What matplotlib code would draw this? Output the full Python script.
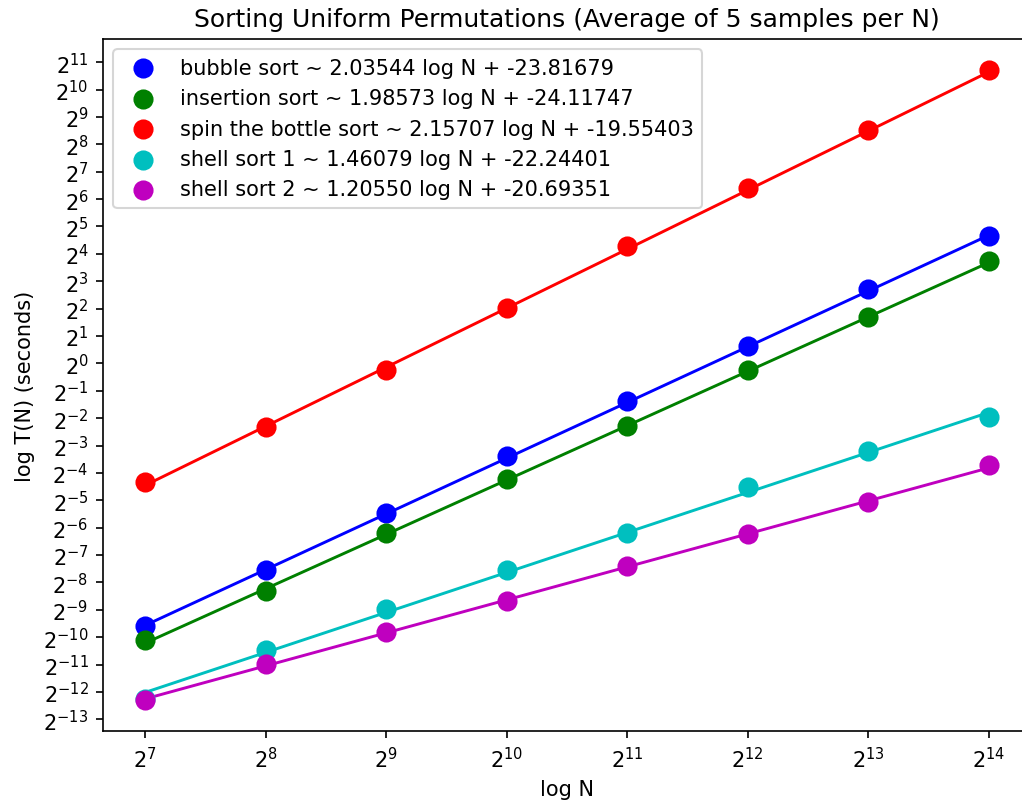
import matplotlib

matplotlib.use("Agg")
import matplotlib.pyplot as plt
import numpy as np

# log2 of input size
log_n = np.arange(7, 15)

names = ["bubble sort", "insertion sort", "spin the bottle sort", "shell sort 1", "shell sort 2"]
colors = ["b", "g", "r", "c", "m"]

# log2 of average time (seconds)
bubble = [-9.59, -7.55, -5.47, -3.39, -1.39, 0.65, 2.72, 4.65]
insertion = [-10.10, -8.31, -6.20, -4.23, -2.27, -0.23, 1.70, 3.74]
spin = [-4.34, -2.31, -0.23, 2.03, 4.29, 6.40, 8.51, 10.70]
shell1 = [-12.26, -10.46, -8.97, -7.55, -6.20, -4.52, -3.21, -1.97]
shell2 = [-12.28, -10.97, -9.81, -8.68, -7.40, -6.24, -5.08, -3.70]
series = [bubble, insertion, spin, shell1, shell2]

# fitted slope / intercept shown in the legend
slopes = [2.03544, 1.98573, 2.15707, 1.46079, 1.20550]
intercepts = [-23.81679, -24.11747, -19.55403, -22.24401, -20.69351]

DPI = 150
fig = plt.figure(figsize=(1022 / DPI, 805 / DPI), dpi=DPI)
ax = fig.add_axes([103 / 1022, 73 / 805, (1031 - 103) / 1022, (732 - 40) / 805])

n = 2.0 ** log_n
for name, c, vals, a, b in zip(names, colors, series, slopes, intercepts):
    fit = 2.0 ** (a * log_n + b)
    ax.plot(n, fit, color=c, lw=1.4)
    ax.scatter(n, 2.0 ** np.array(vals), color=c, s=75, zorder=3,
               label=f"{name} ~ {a:.5f} log N + {b:.5f}")

ax.set_xscale("log", base=2)
ax.set_yscale("log", base=2)
ax.set_xticks(n)
ax.set_yticks([2.0 ** k for k in range(-13, 12)])
ax.minorticks_off()
ax.set_xlabel("log N")
ax.set_ylabel("log T(N) (seconds)")
ax.set_title("Sorting Uniform Permutations (Average of 5 samples per N)")
ax.legend(loc="upper left")

fig.savefig("out.png", dpi=DPI)
